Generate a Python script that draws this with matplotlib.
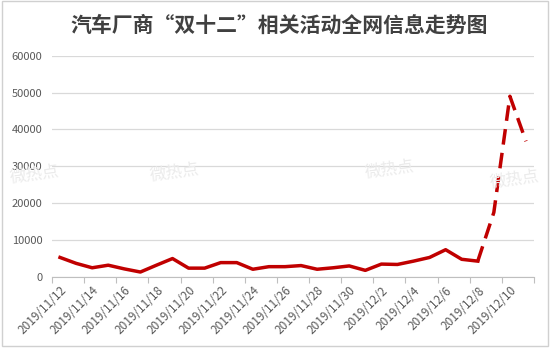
import matplotlib
matplotlib.use('Agg')
import matplotlib.pyplot as plt
from matplotlib.patches import Rectangle

plt.rcParams['font.family'] = ['Noto Sans CJK SC', 'DejaVu Sans']

title = '汽车厂商“双十二”相关活动全网信息走势图'
dates = ['2019/11/12', '2019/11/13', '2019/11/14', '2019/11/15', '2019/11/16',
         '2019/11/17', '2019/11/18', '2019/11/19', '2019/11/20', '2019/11/21',
         '2019/11/22', '2019/11/23', '2019/11/24', '2019/11/25', '2019/11/26',
         '2019/11/27', '2019/11/28', '2019/11/29', '2019/11/30', '2019/12/1',
         '2019/12/2', '2019/12/3', '2019/12/4', '2019/12/5', '2019/12/6',
         '2019/12/7', '2019/12/8', '2019/12/9', '2019/12/10', '2019/12/11']
values = [5300, 3700, 2500, 3200, 2200, 1350, 3200, 5000, 2400, 2400,
          3900, 3900, 2100, 2800, 2800, 3100, 2100, 2500, 3000, 1800,
          3500, 3400, 4300, 5300, 7400, 4800, 4300, 17500, 49000, 36800]
solid_end = 26  # index of 2019/12/8, dashed afterwards
yticks = [0, 10000, 20000, 30000, 40000, 50000, 60000]

red = '#C00000'
grey_txt = '#595959'

fig = plt.figure(figsize=(5.5, 3.48), dpi=100)
fig.patches.append(Rectangle((0.003, 0.006), 0.994, 0.99, transform=fig.transFigure,
                             fill=False, edgecolor='#D0D0D0', linewidth=1))

ax = fig.add_axes([52 / 550, 71 / 348, 482 / 550, 221.3 / 348])

# watermarks
for wx, wy in [(35, 175), (175, 173), (390, 170), (515, 180)]:
    fig.text(wx / 550, 1 - wy / 348, '微热点', fontsize=12, color='#EBEBEB',
             rotation=8, ha='center', va='center', zorder=0)

x = list(range(len(values)))
ax.plot(x[:solid_end + 1], values[:solid_end + 1], color=red, lw=2.5,
        solid_joinstyle='round', zorder=3)
ax.plot(x[solid_end:], values[solid_end:], color=red, lw=2.5,
        linestyle=(0, (4.5, 2.4)), zorder=3)

ax.set_xlim(-0.5, len(values) - 0.5)
ax.set_ylim(0, 60000)
ax.set_yticks(yticks)
ax.set_yticklabels([str(v) for v in yticks], fontsize=8, color=grey_txt)
ax.yaxis.grid(True, color='#D9D9D9', lw=0.9)
ax.set_axisbelow(True)
ax.tick_params(axis='y', length=0, pad=7)

ax.set_xticks([i - 0.5 for i in range(0, len(values) + 1, 2)])
ax.set_xticklabels([])
ax.tick_params(axis='x', which='major', length=4, color='#BFBFBF', width=0.8)
ax.set_xticks(x[::2], minor=True)
ax.set_xticklabels(dates[::2], minor=True, rotation=45, ha='right',
                   rotation_mode='anchor', fontsize=8.5, color=grey_txt)
ax.tick_params(axis='x', which='minor', length=0, pad=5)

for s in ['top', 'right', 'left']:
    ax.spines[s].set_visible(False)
ax.spines['bottom'].set_color('#BFBFBF')
ax.spines['bottom'].set_linewidth(0.8)

fig.text(279 / 550, 1 - 25 / 348, title, fontsize=15, fontweight='semibold',
         color='#404040', ha='center', va='center')

fig.savefig('out.png', dpi=100)
